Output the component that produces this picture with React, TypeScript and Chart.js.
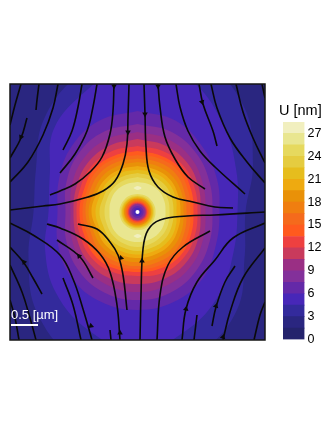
import React, { useEffect, useRef } from "react";
import { Chart, registerables } from "chart.js";

Chart.register(...registerables);

// Colour of each displacement band, lowest first; every band spans 1.5 nm.
const bandColors = [
  "#24236c", "#2a2680", "#332a9c", "#4727b8", "#6429a8", "#83309a", "#9a2f84",
  "#c93a5c", "#ee4040", "#ff5a1e", "#f56a1c", "#f07e10", "#e99108", "#eeaa10",
  "#e6bd1d", "#e5cc40", "#e6d95e", "#e9e690", "#f1efbf",
];
const bandWidths = [1.5, 1.5, 1.5, 1.5, 1.5, 1.5, 1.5, 1.5, 1.5, 1.5, 1.5, 1.5, 1.5, 1.5, 1.5, 1.5, 1.5, 1.5, 1.5];
const colorbarTicks = [0, 3, 6, 9, 12, 15, 18, 21, 24, 27];

// Map is 256 samples across; 27 samples = 0.5 um.
const mapCenter = [127.5, 128];
const directionsDeg = [0, 22.5, 45, 67.5, 90, 112.5, 135, 157.5, 180, 202.5, 225, 247.5, 270, 292.5, 315, 337.5];

// Outer contour of bands 1..17, radius in samples in each direction (clockwise from north).
const outerContours = [
  [210, 210, 210, 210, 210, 210, 210, 210, 210, 210, 210, 210, 210, 210, 210, 210],
  [170, 165, 150, 125, 108, 116, 140, 155, 170, 160, 142, 118, 104, 110, 132, 150],
  [160, 142, 122, 107, 100, 104, 116, 128, 140, 128, 115, 100, 89, 95, 118, 132],
  [101, 99, 92, 86, 82, 85, 93, 97, 98, 97, 93, 86, 80, 85, 93, 99],
  [88, 87, 83, 78, 75, 78, 83, 87, 88, 87, 83, 77, 72, 77, 83, 87],
  [80, 79, 76, 71, 68, 71, 76, 79, 80, 79, 76, 71, 67, 71, 76, 79],
  [73, 72, 70, 66, 63, 66, 70, 72, 72, 72, 70, 66, 64, 66, 70, 72],
  [66, 66, 65, 62, 60, 62, 65, 66, 64, 65, 65, 62, 61, 62, 65, 66],
  [61, 61, 61, 58, 56, 58, 61, 61, 60, 61, 61, 58, 58, 58, 61, 61],
  [57, 58, 58, 55, 53, 55, 58, 58, 57, 58, 58, 55, 55, 55, 58, 58],
  [53.5, 54, 54, 51, 49, 51, 54, 54, 54, 54, 54, 51, 52, 52, 54, 54],
  [50, 50, 50, 48, 46, 48, 50, 50, 50, 50, 50, 48, 49, 48, 50, 50],
  [46, 46, 46, 44, 43, 44, 46, 46, 46, 46, 46, 44, 46, 45, 46, 46],
  [42.5, 42.5, 42.5, 41, 39, 41, 42.5, 42.5, 42.5, 42.5, 42.5, 41, 42, 41, 42.5, 42.5],
  [39, 38.5, 38.5, 37, 36, 37, 38.5, 38.5, 39, 38.5, 38.5, 37, 38, 37, 38.5, 38.5],
  [35, 34.5, 34, 33, 32, 33, 34, 34.5, 35, 34.5, 34, 33, 33, 33, 34, 34.5],
  [30, 30, 30, 29, 28, 29, 30, 30, 30, 30, 30, 29, 28, 29, 30, 30],
];

// Inner hole around the probe: radius inside which the value falls below bands 16..3.
const innerRadii = [18, 16.5, 15.5, 14.5, 13.5, 12.5, 11.5, 10.5, 9.7, 9, 8.2, 7.2, 6, 4];
const probeDot = [[127.5, 128]];

// Two small peak patches above and below the probe.
const peakTop = [[123.5, 104], [127.5, 102], [131.5, 104], [127.5, 106], [123.5, 104]];
const peakBottom = [[123.5, 152], [127.5, 150], [131.5, 152], [127.5, 154], [123.5, 152]];

// Stream lines in map samples.
const streamlines = [
  [[11, 0], [5, 21], [0, 41]],
  [[29, 0], [27, 16], [26, 26]],
  [[48, 0], [43, 24], [33, 51], [18, 78], [0, 98]],
  [[17, 34], [11, 54], [0, 74]],
  [[72, 0], [68, 23], [62, 47], [53, 66]],
  [[87, 0], [83, 23], [77, 47], [65, 70], [50, 89]],
  [[104, 0], [103, 27], [100, 50], [92, 73], [80, 88], [65, 100], [50, 107], [40, 111]],
  [[119, 0], [118, 33], [117, 60], [113, 80], [105, 97], [93, 107], [78, 113], [50, 120], [33, 122], [0, 126]],
  [[134, 0], [135, 30], [136, 63], [139, 87], [148, 103], [163, 113], [183, 118], [205, 123], [223, 124]],
  [[148, 0], [150, 23], [155, 53], [165, 75], [178, 93], [195, 105]],
  [[166, 0], [170, 23], [178, 47], [190, 67], [205, 83], [235, 110]],
  [[189, 0], [193, 20], [203, 47], [207, 62]],
  [[201, 0], [207, 24], [220, 54], [237, 78], [255, 99]],
  [[226, 0], [233, 28], [243, 54], [255, 79]],
  [[252, 0], [255, 14]],
  [[130, 256], [131, 211], [133, 165], [138, 146], [150, 136], [177, 132], [205, 131], [255, 128]],
  [[147, 256], [150, 211], [158, 181], [173, 163], [200, 147]],
  [[172, 256], [176, 225], [187, 198], [205, 176], [223, 154], [255, 139]],
  [[184, 256], [187, 231]],
  [[202, 242], [206, 223], [215, 198], [225, 182]],
  [[213, 256], [220, 228], [233, 194], [255, 164]],
  [[244, 256], [250, 231], [255, 218]],
  [[68, 140], [87, 145], [100, 158], [108, 171], [113, 191], [117, 226]],
  [[37, 140], [50, 144], [73, 155], [90, 170], [100, 188], [107, 221], [110, 256]],
  [[47, 156], [70, 173], [83, 194]],
  [[0, 139], [23, 151], [50, 171], [63, 195], [73, 225], [82, 256]],
  [[53, 194], [63, 221], [71, 256]],
  [[0, 163], [14, 179], [23, 194], [32, 210]],
  [[0, 181], [12, 208], [20, 234], [26, 256]],
  [[0, 216], [5, 234], [9, 256]],
  [[100, 246], [101, 256]],
];

// Arrow heads on the stream lines.
const arrowX = [11, 104, 118, 135, 148, 192, 132, 176, 206, 213, 111, 110, 69, 81, 14];
const arrowY = [53, 2, 48, 30, 2, 18, 177, 225, 222, 253, 174, 249, 172, 242, 178];
const arrowAngles = [205, 180, 180, 180, 180, 165, 0, 10, 15, 15, 345, 0, 320, 350, 325];

const scaleBar = [[1, 241], [28, 241]];
const scaleBarLabel = "0.5 [\u00b5m]";
const colorbarTitle = "U [nm]";

const fontFamily = "'Liberation Sans', Arial, sans-serif";

const ring = (radii: number[]) => {
  const pts = directionsDeg.map((deg, i) => {
    const a = (deg * Math.PI) / 180;
    return { x: mapCenter[0] + radii[i] * Math.sin(a), y: mapCenter[1] - radii[i] * Math.cos(a) };
  });
  pts.push(pts[0]);
  return pts;
};
const toPts = (list: number[][]) => list.map(([x, y]) => ({ x, y }));

const fillSet = (data: { x: number; y: number }[], color: string, tension = 0.4) => ({
  data,
  showLine: true,
  fill: "shape",
  backgroundColor: color,
  borderColor: color,
  borderWidth: 0,
  pointRadius: 0,
  tension,
});

export default function App() {
  const mapRef = useRef<HTMLCanvasElement>(null);
  const barRef = useRef<HTMLCanvasElement>(null);

  useEffect(() => {
    const layers: any[] = [];
    outerContours.forEach((r, i) => layers.push(fillSet(ring(r), bandColors[i + 1])));
    layers.push(fillSet(toPts(peakTop), bandColors[18]));
    layers.push(fillSet(toPts(peakBottom), bandColors[18]));
    innerRadii.forEach((r, i) =>
      layers.push(fillSet(ring(directionsDeg.map(() => r)), bandColors[16 - i]))
    );
    streamlines.forEach((s) =>
      layers.push({
        data: toPts(s),
        showLine: true,
        fill: false,
        borderColor: "#0a0a0a",
        borderWidth: 1.6,
        pointRadius: 0,
        tension: 0.4,
      })
    );
    layers.push({
      data: arrowX.map((x, i) => ({ x, y: arrowY[i] })),
      showLine: false,
      pointStyle: "triangle",
      pointRadius: 3.2,
      rotation: arrowAngles,
      backgroundColor: "#0a0a0a",
      borderColor: "#0a0a0a",
      borderWidth: 0,
    });
    layers.push({
      data: toPts(probeDot),
      showLine: false,
      pointStyle: "circle",
      pointRadius: 2,
      backgroundColor: "#ffffff",
      borderWidth: 0,
    });
    layers.push({
      data: toPts(scaleBar),
      showLine: true,
      fill: false,
      borderColor: "#ffffff",
      borderWidth: 2,
      pointRadius: 0,
    });
    layers.forEach((d, i) => (d.order = layers.length - i));

    const map = new Chart(mapRef.current!, {
      type: "scatter",
      data: { datasets: layers },
      options: {
        animation: false,
        responsive: false,
        layout: { padding: { left: 10, right: 67, top: 84, bottom: 90 } },
        scales: {
          x: { type: "linear", min: 0, max: 255, display: false },
          y: { type: "linear", min: 0, max: 256, reverse: true, display: false },
        },
        plugins: { legend: { display: false }, tooltip: { enabled: false } },
      },
      plugins: [
        {
          id: "frameAndLabel",
          afterDraw(c: any) {
            const { ctx, chartArea: a, scales } = c;
            ctx.save();
            ctx.strokeStyle = "#141414";
            ctx.lineWidth = 1.5;
            ctx.strokeRect(a.left, a.top, a.right - a.left, a.bottom - a.top);
            ctx.fillStyle = "#ffffff";
            ctx.font = `13px ${fontFamily}`;
            ctx.textBaseline = "alphabetic";
            ctx.fillText(scaleBarLabel, scales.x.getPixelForValue(1), scales.y.getPixelForValue(235));
            ctx.restore();
          },
        },
      ],
    } as any);

    const bar = new Chart(barRef.current!, {
      type: "bar",
      data: {
        labels: ["U"],
        datasets: bandWidths.map((w, i) => ({
          data: [w],
          backgroundColor: bandColors[i],
          borderWidth: 0,
          barPercentage: 1,
          categoryPercentage: 1,
        })),
      },
      options: {
        animation: false,
        responsive: false,
        layout: { padding: { left: 8, right: 0, top: 122, bottom: 90.5 } },
        scales: {
          x: { stacked: true, display: false },
          y: {
            stacked: true,
            position: "right",
            min: 0,
            max: 28.5,
            afterBuildTicks(s: any) {
              s.ticks = colorbarTicks.map((value) => ({ value }));
            },
            afterFit(s: any) {
              s.width = 27.5;
            },
            grid: { display: false, drawTicks: false },
            border: { display: false },
            ticks: {
              color: "#000000",
              padding: 3,
              font: { family: fontFamily, size: 12.5 },
              autoSkip: false,
            },
          },
        },
        plugins: { legend: { display: false }, tooltip: { enabled: false } },
      },
      plugins: [
        {
          id: "barTitle",
          afterDraw(c: any) {
            const { ctx } = c;
            ctx.save();
            ctx.fillStyle = "#000000";
            ctx.font = `14.5px ${fontFamily}`;
            ctx.textBaseline = "alphabetic";
            ctx.fillText(colorbarTitle, 4, 115);
            ctx.restore();
          },
        },
      ],
    } as any);

    return () => {
      map.destroy();
      bar.destroy();
    };
  }, []);

  return (
    <div style={{ position: "fixed", left: 0, top: 0, width: 332, height: 430, background: "#fff" }}>
      <canvas ref={mapRef} width={332} height={430} style={{ position: "absolute", left: 0, top: 0 }} />
      <canvas ref={barRef} width={57} height={430} style={{ position: "absolute", left: 275, top: 0 }} />
    </div>
  );
}
